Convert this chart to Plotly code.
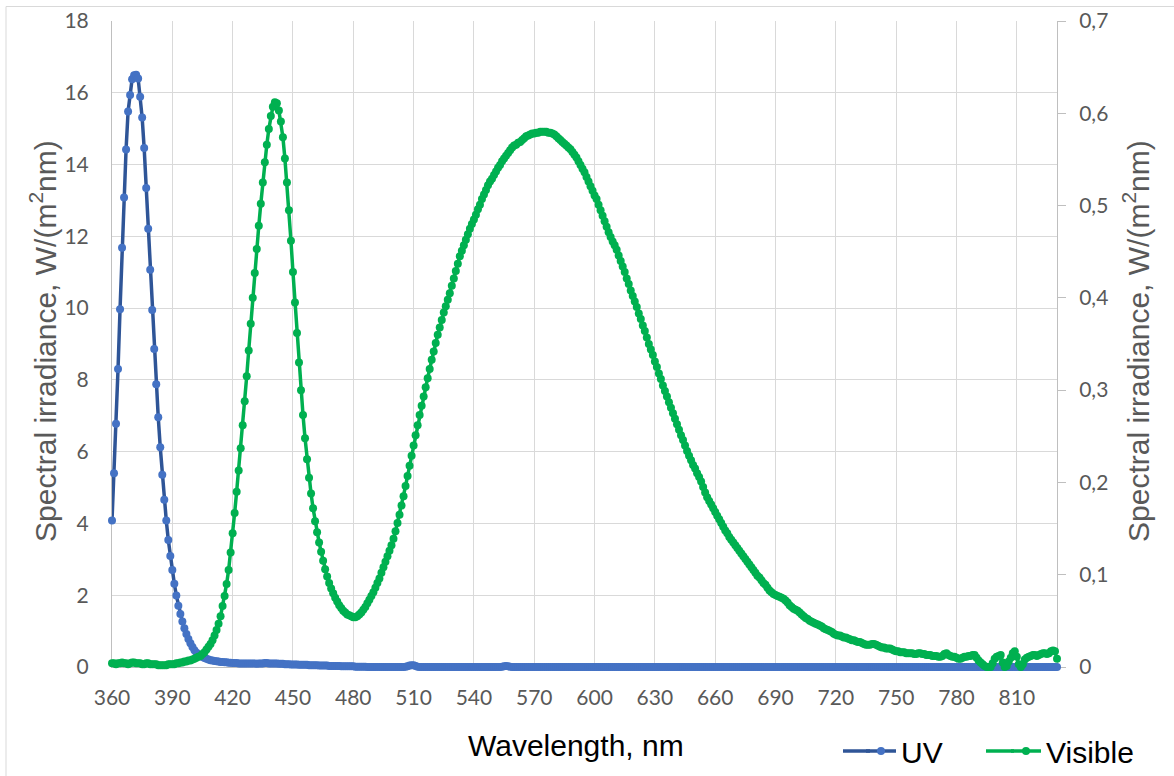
import plotly.graph_objects as go

# ---------------- data ----------------
wavelength = list(range(360, 831))  # nm, 1 nm step (category positions)

uv = [
    4.08, 5.40, 6.78, 8.30, 9.97, 11.68, 13.08, 14.42, 15.48, 15.94,      # 360
    16.38, 16.49, 16.50, 16.40, 15.89, 15.31, 14.46, 13.35, 12.21, 11.07, # 370
    9.95, 8.86, 7.88, 6.96, 6.12, 5.36, 4.66, 4.08, 3.54, 3.09,           # 380
    2.70, 2.32, 1.99, 1.71, 1.48, 1.27, 1.08, 0.92, 0.78, 0.66,           # 390
    0.56, 0.47, 0.40, 0.35, 0.31, 0.28, 0.25, 0.23, 0.21, 0.19,           # 400
    0.18, 0.17, 0.16, 0.15, 0.14, 0.14, 0.13, 0.13, 0.12, 0.12,           # 410
    0.11, 0.11, 0.11, 0.10, 0.10, 0.10, 0.10, 0.10, 0.10, 0.10,           # 420
    0.10, 0.10, 0.09, 0.10, 0.10, 0.10, 0.11, 0.11, 0.10, 0.10,           # 430
    0.10, 0.10, 0.10, 0.09, 0.09, 0.09, 0.08, 0.08, 0.08, 0.07,           # 440
    0.07, 0.07, 0.07, 0.06, 0.06, 0.06, 0.06, 0.06, 0.05, 0.05,           # 450
    0.05, 0.05, 0.05, 0.04, 0.04, 0.04, 0.04, 0.04, 0.03, 0.03,           # 460
    0.03, 0.03, 0.03, 0.03, 0.02, 0.02, 0.02, 0.02, 0.02, 0.02,           # 470
    0.02, 0.01, 0.01, 0.01, 0.01, 0.01, 0.01, 0.00, 0.00, 0.00,           # 480
    0.00, 0.00, 0.00, 0.00, 0.00, 0.00, 0.00, 0.00, 0.00, 0.00,           # 490
    0.00, 0.00, 0.00, 0.00, 0.00, 0.00, 0.01, 0.02, 0.04, 0.05,           # 500
    0.05, 0.03, 0.01, 0.00, 0.00, 0.00, 0.00, 0.00, 0.00, 0.00,           # 510
    0.00, 0.00, 0.00, 0.00, 0.00, 0.00, 0.00, 0.00, 0.00, 0.00,           # 520
    0.00, 0.00, 0.00, 0.00, 0.00, 0.00, 0.00, 0.00, 0.00, 0.00,           # 530
    0.00, 0.00, 0.00, 0.00, 0.00, 0.00, 0.00, 0.00, 0.00, 0.00,           # 540
    0.00, 0.00, 0.00, 0.00, 0.01, 0.02, 0.03, 0.02, 0.01, 0.00,           # 550
    0.00, 0.00, 0.00, 0.00, 0.00, 0.00, 0.00, 0.00, 0.00, 0.00,           # 560
    0.00, 0.00, 0.00, 0.00, 0.00, 0.00, 0.00, 0.00, 0.00, 0.00,           # 570
    0.00, 0.00, 0.00, 0.00, 0.00, 0.00, 0.00, 0.00, 0.00, 0.00,           # 580
    0.00, 0.00, 0.00, 0.00, 0.00, 0.00, 0.00, 0.00, 0.00, 0.00,           # 590
    0.00, 0.00, 0.00, 0.00, 0.00, 0.00, 0.00, 0.00, 0.00, 0.00,           # 600
    0.00, 0.00, 0.00, 0.00, 0.00, 0.00, 0.00, 0.00, 0.00, 0.00,           # 610
    0.00, 0.00, 0.00, 0.00, 0.00, 0.00, 0.00, 0.00, 0.00, 0.00,           # 620
    0.00, 0.00, 0.00, 0.00, 0.00, 0.00, 0.00, 0.00, 0.00, 0.00,           # 630
    0.00, 0.00, 0.00, 0.00, 0.00, 0.00, 0.00, 0.00, 0.00, 0.00,           # 640
    0.00, 0.00, 0.00, 0.00, 0.00, 0.00, 0.00, 0.00, 0.00, 0.00,           # 650
    0.00, 0.00, 0.00, 0.00, 0.00, 0.00, 0.00, 0.00, 0.00, 0.00,           # 660
    0.00, 0.00, 0.00, 0.00, 0.00, 0.00, 0.00, 0.00, 0.00, 0.00,           # 670
    0.00, 0.00, 0.00, 0.00, 0.00, 0.00, 0.00, 0.00, 0.00, 0.00,           # 680
    0.00, 0.00, 0.00, 0.00, 0.00, 0.00, 0.00, 0.00, 0.00, 0.00,           # 690
    0.00, 0.00, 0.00, 0.00, 0.00, 0.00, 0.00, 0.00, 0.00, 0.00,           # 700
    0.00, 0.00, 0.00, 0.00, 0.00, 0.00, 0.00, 0.00, 0.00, 0.00,           # 710
    0.00, 0.00, 0.00, 0.00, 0.00, 0.00, 0.00, 0.00, 0.00, 0.00,           # 720
    0.00, 0.00, 0.00, 0.00, 0.00, 0.00, 0.00, 0.00, 0.00, 0.00,           # 730
    0.00, 0.00, 0.00, 0.00, 0.00, 0.00, 0.00, 0.00, 0.00, 0.00,           # 740
    0.00, 0.00, 0.00, 0.00, 0.00, 0.00, 0.00, 0.00, 0.00, 0.00,           # 750
    0.00, 0.00, 0.00, 0.00, 0.00, 0.00, 0.00, 0.00, 0.00, 0.00,           # 760
    0.00, 0.00, 0.00, 0.00, 0.00, 0.00, 0.00, 0.00, 0.00, 0.00,           # 770
    0.00, 0.00, 0.00, 0.00, 0.00, 0.00, 0.00, 0.00, 0.00, 0.00,           # 780
    0.00, 0.00, 0.00, 0.00, 0.00, 0.00, 0.00, 0.00, 0.00, 0.00,           # 790
    0.00, 0.00, 0.00, 0.00, 0.00, 0.00, 0.00, 0.00, 0.00, 0.00,           # 800
    0.00, 0.00, 0.00, 0.00, 0.00, 0.00, 0.00, 0.00, 0.00, 0.00,           # 810
    0.00, 0.00, 0.00, 0.00, 0.00, 0.00, 0.00, 0.00, 0.00, 0.00,           # 820
    0.00,                                                                 # 830
]

visible = [
    0.004, 0.004, 0.003, 0.004, 0.004, 0.005, 0.004, 0.004, 0.003, 0.004,  # 360
    0.005, 0.005, 0.004, 0.004, 0.004, 0.003, 0.003, 0.004, 0.004, 0.003,  # 370
    0.003, 0.003, 0.003, 0.002, 0.002, 0.002, 0.002, 0.002, 0.003, 0.003,  # 380
    0.003, 0.003, 0.004, 0.004, 0.005, 0.005, 0.006, 0.006, 0.007, 0.007,  # 390
    0.008, 0.009, 0.010, 0.011, 0.012, 0.014, 0.016, 0.019, 0.022, 0.025,  # 400
    0.029, 0.034, 0.040, 0.047, 0.055, 0.066, 0.077, 0.090, 0.105, 0.124,  # 410
    0.145, 0.167, 0.190, 0.213, 0.237, 0.262, 0.288, 0.315, 0.343, 0.372,  # 420
    0.400, 0.427, 0.453, 0.478, 0.502, 0.525, 0.547, 0.566, 0.583, 0.597,  # 430
    0.607, 0.612, 0.611, 0.603, 0.591, 0.574, 0.551, 0.525, 0.495, 0.462,  # 440
    0.428, 0.395, 0.362, 0.330, 0.300, 0.273, 0.248, 0.225, 0.205, 0.188,  # 450
    0.172, 0.158, 0.146, 0.135, 0.125, 0.115, 0.106, 0.098, 0.091, 0.085,  # 460
    0.080, 0.075, 0.071, 0.067, 0.064, 0.061, 0.059, 0.057, 0.056, 0.055,  # 470
    0.054, 0.054, 0.055, 0.057, 0.059, 0.062, 0.065, 0.069, 0.073, 0.077,  # 480
    0.081, 0.086, 0.091, 0.096, 0.102, 0.108, 0.114, 0.120, 0.126, 0.132,  # 490
    0.139, 0.147, 0.156, 0.165, 0.175, 0.185, 0.196, 0.207, 0.218, 0.229,  # 500
    0.240, 0.251, 0.262, 0.273, 0.283, 0.293, 0.303, 0.313, 0.323, 0.333,  # 510
    0.342, 0.351, 0.360, 0.368, 0.376, 0.384, 0.391, 0.398, 0.405, 0.413,  # 520
    0.421, 0.429, 0.437, 0.445, 0.451, 0.457, 0.463, 0.469, 0.475, 0.480,  # 530
    0.485, 0.490, 0.496, 0.501, 0.507, 0.512, 0.517, 0.522, 0.526, 0.529,  # 540
    0.533, 0.537, 0.541, 0.544, 0.548, 0.551, 0.554, 0.557, 0.560, 0.563,  # 550
    0.565, 0.566, 0.568, 0.569, 0.571, 0.573, 0.575, 0.576, 0.577, 0.578,  # 560
    0.578, 0.579, 0.579, 0.580, 0.580, 0.580, 0.580, 0.579, 0.579, 0.578,  # 570
    0.577, 0.575, 0.573, 0.571, 0.569, 0.567, 0.565, 0.563, 0.561, 0.558,  # 580
    0.555, 0.552, 0.548, 0.544, 0.540, 0.536, 0.531, 0.526, 0.521, 0.516,  # 590
    0.511, 0.507, 0.501, 0.495, 0.489, 0.483, 0.477, 0.471, 0.466, 0.461,  # 600
    0.457, 0.452, 0.446, 0.440, 0.434, 0.428, 0.421, 0.415, 0.408, 0.402,  # 610
    0.396, 0.390, 0.383, 0.377, 0.370, 0.364, 0.357, 0.350, 0.344, 0.338,  # 620
    0.331, 0.325, 0.318, 0.312, 0.305, 0.299, 0.293, 0.287, 0.281, 0.275,  # 630
    0.269, 0.263, 0.257, 0.251, 0.246, 0.240, 0.234, 0.229, 0.224, 0.219,  # 640
    0.215, 0.210, 0.206, 0.201, 0.195, 0.189, 0.184, 0.180, 0.176, 0.172,  # 650
    0.168, 0.164, 0.160, 0.156, 0.152, 0.148, 0.145, 0.141, 0.138, 0.135,  # 660
    0.132, 0.129, 0.126, 0.123, 0.120, 0.117, 0.114, 0.111, 0.108, 0.105,  # 670
    0.102, 0.099, 0.097, 0.094, 0.091, 0.089, 0.086, 0.083, 0.081, 0.079,  # 680
    0.078, 0.077, 0.076, 0.075, 0.074, 0.072, 0.070, 0.067, 0.065, 0.063,  # 690
    0.062, 0.061, 0.059, 0.057, 0.055, 0.053, 0.052, 0.050, 0.049, 0.048,  # 700
    0.047, 0.046, 0.045, 0.044, 0.042, 0.041, 0.040, 0.039, 0.038, 0.036,  # 710
    0.035, 0.034, 0.034, 0.033, 0.032, 0.032, 0.031, 0.030, 0.029, 0.029,  # 720
    0.028, 0.027, 0.027, 0.026, 0.025, 0.024, 0.024, 0.024, 0.025, 0.025,  # 730
    0.024, 0.023, 0.022, 0.021, 0.021, 0.020, 0.020, 0.020, 0.019, 0.018,  # 740
    0.017, 0.017, 0.016, 0.016, 0.016, 0.015, 0.015, 0.015, 0.015, 0.014,  # 750
    0.014, 0.015, 0.015, 0.014, 0.014, 0.013, 0.013, 0.013, 0.012, 0.012,  # 760
    0.012, 0.011, 0.011, 0.012, 0.014, 0.015, 0.013, 0.012, 0.011, 0.011,  # 770
    0.010, 0.009, 0.009, 0.010, 0.011, 0.011, 0.012, 0.012, 0.013, 0.013,  # 780
    0.010, 0.007, 0.005, 0.003, 0.001, 0.000, 0.000, 0.000, 0.004, 0.009,  # 790
    0.011, 0.012, 0.013, 0.005, 0.000, 0.001, 0.006, 0.010, 0.015, 0.017,  # 800
    0.011, 0.003, 0.000, 0.003, 0.008, 0.010, 0.011, 0.012, 0.013, 0.013,  # 810
    0.012, 0.013, 0.014, 0.015, 0.015, 0.014, 0.015, 0.017, 0.018, 0.017,  # 820
    0.009,                                                                  # 830
]

x_tick_values = [360, 390, 420, 450, 480, 510, 540, 570, 600, 630, 660, 690, 720, 750, 780, 810]
left_tick_values = [0, 2, 4, 6, 8, 10, 12, 14, 16, 18]
right_tick_values = [0, 0.1, 0.2, 0.3, 0.4, 0.5, 0.6, 0.7]
right_tick_labels = ["0", "0,1", "0,2", "0,3", "0,4", "0,5", "0,6", "0,7"]

series_names = ["UV", "Visible"]
series_line_colors = ["#2F5597", "#00B050"]
series_marker_colors = ["#4472C4", "#00B050"]
x_title = "Wavelength, nm"
y_title = "Spectral irradiance, W/(m<sup>2</sup>nm)"

# ---------------- styling ----------------
W, H = 1174, 776
L, R, T, B = 112, 117, 21, 109
PW, PH = W - L - R, H - T - B


def px_x(px):
    return (px - L) / PW


def px_y(py):
    return (H - B - py) / PH


GRID = "#D9D9D9"
AXIS = "#BFBFBF"
TICK_FONT = dict(family="Lato, Liberation Sans, sans-serif", size=21, color="#595959")
TITLE_FONT = dict(family="Liberation Sans, Arial, sans-serif", size=30, color="#595959")
BLACK_FONT = dict(family="Liberation Sans, Arial, sans-serif", size=30, color="black")

fig = go.Figure()
fig.add_trace(go.Scatter(
    x=wavelength, y=uv, name=series_names[0], mode="lines+markers",
    line=dict(color=series_line_colors[0], width=3.5),
    marker=dict(color=series_marker_colors[0], size=8),
    cliponaxis=False, yaxis="y", hoverinfo="skip",
))
fig.add_trace(go.Scatter(
    x=wavelength, y=visible, name=series_names[1], mode="lines+markers",
    line=dict(color=series_line_colors[1], width=3.5),
    marker=dict(color=series_marker_colors[1], size=8),
    cliponaxis=False, yaxis="y2", hoverinfo="skip",
))

LEG_Y = 751
# lengthen the legend line samples to Excel's longer swatches
legend_ext = [
    dict(type="line", xref="paper", yref="paper",
         x0=px_x(843), x1=px_x(870), y0=px_y(LEG_Y), y1=px_y(LEG_Y),
         line=dict(color=series_line_colors[0], width=3.5)),
    dict(type="line", xref="paper", yref="paper",
         x0=px_x(986), x1=px_x(1014), y0=px_y(LEG_Y), y1=px_y(LEG_Y),
         line=dict(color=series_line_colors[1], width=3.5)),
]

fig.update_layout(
    width=W, height=H,
    margin=dict(l=L, r=R, t=T, b=B, autoexpand=False),
    paper_bgcolor="white", plot_bgcolor="white",
    separators=", ",
    showlegend=True,
    legend=dict(
        orientation="h", x=px_x(861), xanchor="left", y=px_y(LEG_Y), yanchor="middle",
        font=BLACK_FONT, entrywidth=100, entrywidthmode="pixels",
        bgcolor="rgba(0,0,0,0)", itemclick=False, itemdoubleclick=False,
    ),
    xaxis=dict(
        range=[360, 830], tickmode="array", tickvals=x_tick_values,
        showgrid=True, gridcolor=GRID, gridwidth=1,
        showline=True, linecolor=AXIS, linewidth=1,
        ticks="", ticklabelstandoff=12, tickfont=TICK_FONT,
        zeroline=False, layer="below traces", fixedrange=True,
    ),
    yaxis=dict(
        range=[0, 18], tickmode="array", tickvals=left_tick_values,
        showgrid=True, gridcolor=GRID, gridwidth=1,
        showline=True, linecolor=AXIS, linewidth=1,
        ticks="", ticklabelstandoff=18, tickfont=TICK_FONT,
        zeroline=False, layer="below traces", fixedrange=True,
    ),
    yaxis2=dict(
        range=[0, 0.7], overlaying="y", side="right", anchor="x",
        tickmode="array", tickvals=right_tick_values, ticktext=right_tick_labels,
        showgrid=False, showline=True, linecolor=AXIS, linewidth=1,
        ticks="outside", ticklen=8, tickcolor=AXIS, ticklabelstandoff=9,
        tickfont=TICK_FONT, zeroline=False, layer="below traces", fixedrange=True,
    ),
    annotations=[
        dict(text=x_title, xref="paper", yref="paper", x=px_x(576), y=px_y(745),
             xanchor="center", yanchor="middle", showarrow=False, font=BLACK_FONT),
        dict(text=y_title, xref="paper", yref="paper", x=px_x(43), y=px_y(341),
             xanchor="center", yanchor="middle", textangle=-90, showarrow=False,
             font=TITLE_FONT),
        dict(text=y_title, xref="paper", yref="paper", x=px_x(1136), y=px_y(341),
             xanchor="center", yanchor="middle", textangle=-90, showarrow=False,
             font=TITLE_FONT),
    ],
    shapes=[
        dict(type="rect", xref="paper", yref="paper",
             x0=px_x(6), x1=px_x(1190), y0=px_y(800), y1=px_y(6.5),
             line=dict(color=GRID, width=1), fillcolor="rgba(0,0,0,0)", layer="below"),
    ] + legend_ext,
)

fig.write_html(
    "out.html",
    config={"displayModeBar": False, "staticPlot": True},
    post_script="document.body.style.margin='0';document.body.style.overflow='hidden';",
)
